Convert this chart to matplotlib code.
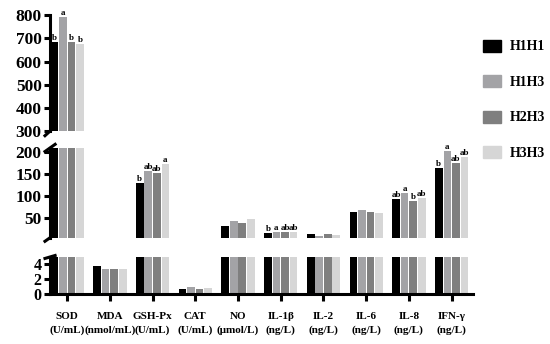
import numpy as np
import matplotlib
matplotlib.use('Agg')
import matplotlib.pyplot as plt
from matplotlib.patches import Patch

plt.rcParams['font.family'] = ['Liberation Serif', 'DejaVu Serif']
plt.rcParams['font.weight'] = 'bold'

# data
categories = ['SOD\n(U/mL)', 'MDA\n(nmol/mL)', 'GSH-Px\n(U/mL)', 'CAT\n(U/mL)', 'NO\n(μmol/L)',
              'IL-1β\n(ng/L)', 'IL-2\n(ng/L)', 'IL-6\n(ng/L)', 'IL-8\n(ng/L)', 'IFN-γ\n(ng/L)']
groups = ['H1H1', 'H1H3', 'H2H3', 'H3H3']
h1h1 = [685, 3.8, 130, 0.65, 31, 16, 13, 62, 92, 164]
h1h3 = [793, 3.4, 157, 0.95, 42, 18, 9, 68, 107, 202]
h2h3 = [683, 3.4, 153, 0.65, 38, 18, 12, 64, 88, 174]
h3h3 = [677, 3.4, 173, 0.8, 47, 17, 10.5, 61, 94, 188]
letters = {0: ['b', 'a', 'b', 'b'],
           2: ['b', 'ab', 'ab', 'a'],
           5: ['b', 'a', 'ab', 'ab'],
           8: ['ab', 'a', 'b', 'ab'],
           9: ['b', 'a', 'ab', 'ab']}
colors = ['#000000', '#a3a3a6', '#7f7f7f', '#d6d6d6']

series = [h1h1, h1h3, h2h3, h3h3]
x = np.arange(len(categories))
w = 0.18
step = 0.2

fig = plt.figure(figsize=(5.5, 3.44), dpi=100)
left, right = 0.091, 0.86
ax_top = fig.add_axes([left, 0.619, right - left, 0.337])
ax_mid = fig.add_axes([left, 0.309, right - left, 0.261])
ax_bot = fig.add_axes([left, 0.145, right - left, 0.108])

for ax in (ax_top, ax_mid, ax_bot):
    for i, vals in enumerate(series):
        ax.bar(x + (i - 1.5) * step, vals, width=w, color=colors[i], label=groups[i])
    ax.set_xlim(-0.4, 9.5)
    for s in ('top', 'right'):
        ax.spines[s].set_visible(False)
    ax.spines['left'].set_linewidth(2.2)
    ax.tick_params(axis='y', width=2.2, length=4, labelsize=12.5, pad=2)

ax_top.set_ylim(300, 800)
ax_top.set_yticks([300, 400, 500, 600, 700, 800])
ax_mid.set_ylim(4.5, 209)
ax_mid.set_yticks([50, 100, 150, 200])
ax_bot.set_ylim(0, 5)
ax_bot.set_yticks([0, 2, 4])
ax_bot.tick_params(axis='y', labelsize=11.5)

for ax in (ax_top, ax_mid):
    ax.spines['bottom'].set_visible(False)
    ax.set_xticks([])

ax_bot.spines['bottom'].set_linewidth(2.2)
ax_bot.set_xticks(x)
ax_bot.set_xticklabels(categories, fontsize=8, linespacing=1.55)
ax_bot.tick_params(axis='x', width=2.2, length=5, pad=8)

# significance letters
for idx, labs in letters.items():
    for i, lab in enumerate(labs):
        v = series[i][idx]
        ax = ax_top if v > 300 else ax_mid
        ax.text(x[idx] + (i - 1.5) * step, v, lab, ha='center', va='bottom', fontsize=6.5)

# break marks on the left axis
def brk(ax, ypos):
    ax.plot([-0.012, 0.012], [ypos - 0.04, ypos + 0.04], transform=ax.transAxes,
            color='black', lw=2.2, clip_on=False)

brk(ax_top, 0.0)
brk(ax_mid, 1.0)
brk(ax_mid, 0.0)
brk(ax_bot, 1.0)

handles = [Patch(color=colors[i], label=groups[i]) for i in range(4)]
fig.legend(handles=handles, loc='upper left', bbox_to_anchor=(0.878, 0.885), frameon=False,
           fontsize=10, labelspacing=1.57, handlelength=1.3, handleheight=0.95,
           handletextpad=0.65, borderpad=0, borderaxespad=0)

fig.savefig('out.png', dpi=100)
